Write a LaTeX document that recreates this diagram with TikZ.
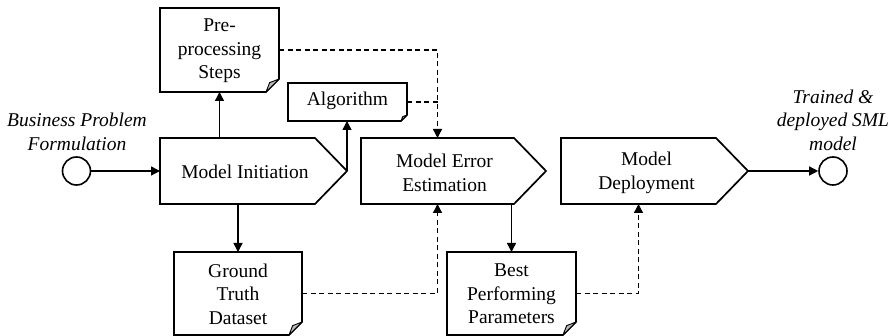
\documentclass[tikz,border=0pt]{standalone}
\usepackage{fontspec}
\setmainfont{Liberation Serif}
\usetikzlibrary{arrows.meta,calc}
\tikzset{
  outline/.style={line width=1.7pt, line join=miter},
  conn/.style={line width=1.4pt, -{Triangle[length=9pt,width=9pt]}},
  dconn/.style={conn, dash pattern=on 5pt off 3.5pt},
  dplain/.style={line width=1.4pt, dash pattern=on 5pt off 3.5pt},
  region/.style={inner sep=0pt, outer sep=0pt},
  lbl/.style={inner sep=0pt, align=center, font=\fontsize{19.5}{23.5}\selectfont},
  ilbl/.style={inner sep=0pt, align=center, font=\fontsize{19.5}{23.5}\selectfont\itshape},
  foldpart/.style={fill=gray!55, draw, line width=0.9pt, line join=round},
  evt/.style={circle, draw, line width=1.6pt, minimum size=28pt, inner sep=0pt},
}
\newcommand{\docbox}[2]{%
  \draw[outline] (#1.north west) -- (#1.north east) -- ([yshift=#2]#1.south east) -- ([xshift=-#2]#1.south east) -- (#1.south west) -- cycle;
  \draw[foldpart] ([yshift=#2]#1.south east) -- ([xshift=-#2]#1.south east) -- ([xshift=-0.72*#2, yshift=0.72*#2]#1.south east) -- cycle;}
\newcommand{\stepbox}[1]{%
  \coordinate (#1tip) at ($(#1.east)+(32,0)$);
  \draw[outline] (#1.north west) -- (#1.north east) -- (#1tip) -- (#1.south east) -- (#1.south west) -- cycle;}
\begin{document}
\begin{tikzpicture}[x=1pt,y=-1pt]
\useasboundingbox (0,0) rectangle (896,336);
% regions
\node[region, minimum width=119pt, minimum height=84pt] (pp) at (219.5,50) {};
\node[region, minimum width=119pt, minimum height=38pt] (alg) at (347.5,102) {};
\node[region, minimum width=155pt, minimum height=66pt] (mi) at (237.5,171) {};
\node[region, minimum width=153pt, minimum height=66pt] (mee) at (437.5,171) {};
\node[region, minimum width=155pt, minimum height=66pt] (md) at (638.5,171) {};
\node[region, minimum width=128pt, minimum height=83pt] (gt) at (238,293.5) {};
\node[region, minimum width=129pt, minimum height=83pt] (bpp) at (511.5,293.5) {};
\node[evt] (start) at (76.5,171) {};
\node[evt] (end) at (833,171) {};
% outlines
\docbox{pp}{13pt}
\docbox{alg}{6pt}
\docbox{gt}{13pt}
\docbox{bpp}{13pt}
\stepbox{mi}
\stepbox{mee}
\stepbox{md}
% texts
\node[lbl] (ppt) at (219.5,51) {Pre-\\processing\\Steps};
\node[lbl] (algt) at (347.5,101) {Algorithm};
\node[lbl] (mit) at (245,172) {Model Initiation};
\node[lbl] (meet) at (444.5,173) {Model Error\\Estimation};
\node[lbl] (mdt) at (646.5,173) {Model\\Deployment};
\node[lbl] (gtt) at (238,294) {Ground\\Truth\\Dataset};
\node[lbl] (bppt) at (511.5,294) {Best\\Performing\\Parameters};
\node[ilbl] (startt) at (77,132) {Business Problem\\Formulation};
\node[ilbl] (endt) at (833,120) {Trained \&\\deployed SML\\model};
% solid connectors
\draw[conn] (start.east) -- (mi.west);
\draw[conn] (mi.north -| pp.south) -- (pp.south);
\draw[conn] (mitip) -- (mitip |- alg.south);
\draw[conn] (mi.south -| gt.north) -- (gt.north);
\draw[conn] (mee.south -| bpp.north) -- (bpp.north);
\draw[conn] (mdtip) -- (end.west);
% dashed connectors
\draw[dconn] (pp.east) -| (mee.north);
\draw[dplain] (alg.east) -- (alg.east -| mee.north);
\draw[dconn] (gt.east) -| (mee.south);
\draw[dconn] (bpp.east) -| (md.south);
\end{tikzpicture}
\end{document}
